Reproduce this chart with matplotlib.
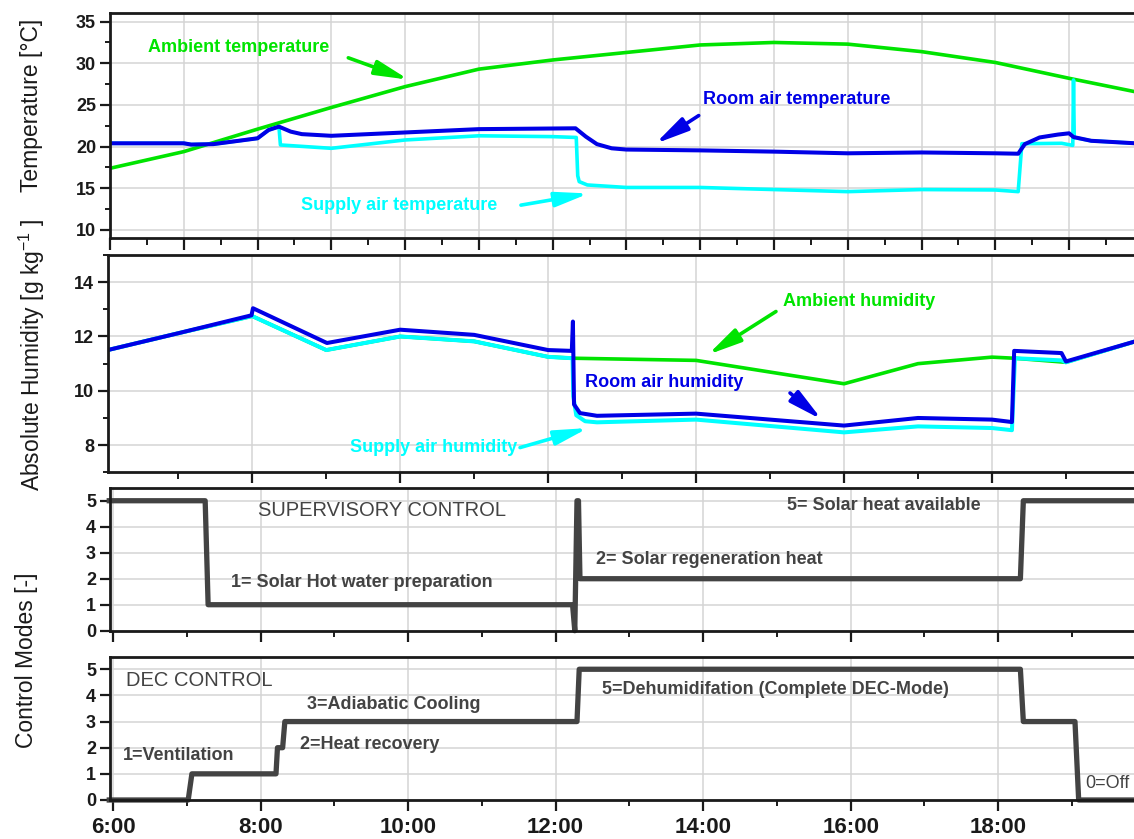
import matplotlib
matplotlib.use('Agg')
import matplotlib.pyplot as plt
from matplotlib.ticker import MultipleLocator, FuncFormatter

plt.rcParams['font.family'] = ['Liberation Sans', 'DejaVu Sans']
plt.rcParams['mathtext.default'] = 'regular'

# time axis is hours of the day
# temperatures [degC]
amb_t_h = [6, 7, 8, 9, 10, 11, 12, 13, 14, 15, 16, 17, 18, 19, 20]
amb_t = [17.4, 19.4, 22.1, 24.7, 27.2, 29.3, 30.4, 31.3, 32.2, 32.5, 32.3, 31.4, 30.1, 28.2, 26.4]

room_t_h = [6, 7.0, 7.1, 7.4, 8.0, 8.15, 8.29, 8.45, 8.6, 9.0, 10.0, 11.0, 12.31, 12.45, 12.6,
            12.8, 13.0, 14.0, 15.0, 16.0, 17.0, 18.0, 18.31, 18.4, 18.6, 18.85, 19.0, 19.06, 19.3, 20]
room_t = [20.4, 20.4, 20.25, 20.3, 21.0, 22.0, 22.4, 21.8, 21.5, 21.3, 21.7, 22.1, 22.2, 21.2, 20.3,
          19.8, 19.65, 19.55, 19.4, 19.2, 19.3, 19.2, 19.15, 20.3, 21.1, 21.45, 21.6, 21.15, 20.7, 20.35]

supply_t_h = [6, 7.0, 7.1, 7.4, 8.0, 8.15, 8.29, 8.31, 9.0, 10.0, 11.0, 12.0, 12.32, 12.34, 12.36,
              12.47, 13.0, 14.0, 15.0, 16.0, 17.0, 18.0, 18.31, 18.36, 18.9, 19.05, 19.06, 19.07,
              19.3, 20]
supply_t = [20.4, 20.4, 20.25, 20.3, 21.0, 22.0, 22.4, 20.2, 19.8, 20.8, 21.3, 21.2, 21.1, 16.5, 15.8,
            15.4, 15.1, 15.1, 14.85, 14.6, 14.85, 14.8, 14.6, 20.35, 20.4, 20.15, 28.0, 21.1,
            20.7, 20.35]

# absolute humidity [g/kg]
amb_x_h = [6, 7, 8, 9, 10, 11, 12, 12.33, 14, 16, 17, 18, 18.3, 19, 20]
amb_x = [11.47, 12.12, 12.75, 11.5, 12.0, 11.82, 11.25, 11.2, 11.12, 10.26, 11.0, 11.24, 11.2, 11.05, 11.87]

supply_x_h = [6, 7, 8, 9, 10, 11, 12, 12.33, 12.34, 12.38, 12.5, 12.66, 14, 16, 17, 18, 18.27,
              18.31, 18.94, 19.0, 20]
supply_x = [11.47, 12.12, 12.75, 11.5, 12.0, 11.82, 11.25, 11.2, 9.8, 9.1, 8.88, 8.84, 8.94, 8.47,
            8.69, 8.63, 8.55, 11.2, 11.12, 11.05, 11.87]

room_x_h = [6, 7, 7.99, 8.01, 9.01, 10, 11, 12, 12.32, 12.335, 12.35, 12.43, 12.66, 14, 16, 17, 18,
            18.27, 18.3, 18.94, 19.0, 20]
room_x = [11.47, 12.12, 12.78, 13.04, 11.76, 12.25, 12.06, 11.5, 11.47, 12.55, 9.5, 9.18, 9.08, 9.16,
          8.72, 9.0, 8.94, 8.85, 11.47, 11.39, 11.08, 11.87]

# control modes [-]
sup_mode_h = [5.95, 7.25, 7.29, 12.23, 12.26, 12.29, 12.31, 12.33, 18.30, 18.34, 20]
sup_mode = [5, 5, 1, 1, 0, 5, 5, 2, 2, 5, 5]

dec_mode_h = [5.95, 7.02, 7.07, 8.21, 8.23, 8.30, 8.33, 12.29, 12.32, 18.30, 18.34, 19.04, 19.09, 20]
dec_mode = [0, 0, 1, 1, 2, 2, 3, 3, 5, 5, 3, 3, 0, 0]

GREEN = '#00e400'
BLUE = '#0000e6'
CYAN = '#00ffff'
GREY = '#434343'
GRID = '#d4d4d4'
INK = '#1a1a1a'

fig = plt.figure(figsize=(11.34, 8.39), dpi=100)
W, H = 1134., 839.


def panel(top, bottom, left=110):
    return fig.add_axes([left / W, 1 - bottom / H, (W - left) / W, (bottom - top) / H])


def style(ax, xlim, ylim, xmaj, xmin, ymaj, ymin, xlen=8.5, xlen_min=5):
    ax.set_xlim(xlim)
    ax.set_ylim(ylim)
    ax.xaxis.set_major_locator(MultipleLocator(xmaj))
    ax.xaxis.set_minor_locator(MultipleLocator(xmin))
    ax.yaxis.set_major_locator(MultipleLocator(ymaj))
    if ymin:
        ax.yaxis.set_minor_locator(MultipleLocator(ymin))
    ax.spines['right'].set_visible(False)
    for s in ['left', 'top', 'bottom']:
        ax.spines[s].set_linewidth(2)
        ax.spines[s].set_color(INK)
    ax.tick_params(axis='x', which='major', direction='out', length=xlen, width=1.6,
                   labelbottom=False, top=False, color=INK)
    ax.tick_params(axis='x', which='minor', direction='out', length=xlen_min, width=1.4, top=False,
                   color=INK)
    ax.tick_params(axis='y', which='major', direction='out', length=7, width=1.6, color=INK,
                   labelsize=13, labelcolor=INK, pad=3, right=False)
    ax.tick_params(axis='y', which='minor', direction='out', length=3.5, width=1.4, right=False,
                   color=INK)
    for lab in ax.get_yticklabels():
        lab.set_fontweight('bold')
    ax.grid(which='major', color=GRID, lw=1.1)
    ax.set_axisbelow(True)


def label(ax, x, y, s, color, weight='bold', size=13):
    ax.text(x, y, s, color=color, fontsize=size, fontweight=weight, ha='left', va='center')


def arrow(ax, tail, head, color):
    ax.annotate('', xy=head, xytext=tail,
                arrowprops=dict(arrowstyle='-|>,head_length=1.0,head_width=0.22', color=color,
                                lw=2.6, mutation_scale=20, shrinkA=0, shrinkB=0))


# temperatures
ax1 = panel(13.3, 238.3)
style(ax1, (6.0, 19.88), (9, 36), 1, 0.5, 5, 2.5, xlen=8.5, xlen_min=5)
ax1.plot(amb_t_h, amb_t, color=GREEN, lw=2.6)
ax1.plot(supply_t_h, supply_t, color=CYAN, lw=2.6)
ax1.plot(room_t_h, room_t, color=BLUE, lw=2.9)
label(ax1, 6.52, 31.9, 'Ambient temperature', GREEN)
arrow(ax1, (9.23, 30.66), (10.05, 28.03), GREEN)
label(ax1, 14.04, 25.6, 'Room air temperature', BLUE)
arrow(ax1, (13.98, 23.73), (13.39, 20.35), BLUE)
label(ax1, 8.59, 12.98, 'Supply air temperature', CYAN)
arrow(ax1, (11.57, 12.98), (12.49, 14.38), CYAN)

# absolute humidity
ax2 = panel(255, 472.3, left=108)
style(ax2, (6.05, 19.92), (7, 15), 2, 1, 2, 1, xlen=8, xlen_min=5)
ax2.plot(amb_x_h, amb_x, color=GREEN, lw=2.6)
ax2.plot(supply_x_h, supply_x, color=CYAN, lw=2.9)
ax2.plot(room_x_h, room_x, color=BLUE, lw=2.9)
label(ax2, 15.18, 13.29, 'Ambient humidity', GREEN)
arrow(ax2, (15.08, 12.92), (14.16, 11.33), GREEN)
label(ax2, 12.5, 10.31, 'Room air humidity', BLUE)
arrow(ax2, (15.27, 9.92), (15.70, 8.94), BLUE)
label(ax2, 9.32, 7.9, 'Supply air humidity', CYAN)
arrow(ax2, (11.62, 7.91), (12.54, 8.63), CYAN)

# supervisory control
ax3 = panel(488, 630.7)
style(ax3, (5.96, 19.84), (0, 5.49), 2, 1, 1, None, xlen=8, xlen_min=4)
ax3.plot(sup_mode_h, sup_mode, color=GREY, lw=3.8, clip_on=False)
label(ax3, 7.97, 4.62, 'SUPERVISORY CONTROL', GREY, weight='normal', size=14.5)
label(ax3, 7.6, 1.85, '1= Solar Hot water preparation', GREY)
label(ax3, 12.55, 2.75, '2= Solar regeneration heat', GREY)
label(ax3, 15.13, 4.83, '5= Solar heat available', GREY)

# DEC control
ax4 = panel(656.7, 800)
style(ax4, (5.96, 19.84), (0, 5.48), 2, 1, 1, None, xlen=8, xlen_min=4)
ax4.plot(dec_mode_h, dec_mode, color=GREY, lw=3.8, clip_on=False)
ax4.tick_params(axis='x', which='major', labelbottom=True, labelsize=16, labelcolor=INK, pad=4)
ax4.xaxis.set_major_formatter(FuncFormatter(lambda v, p: '%d:00' % round(v)))
for lab in ax4.get_xticklabels():
    lab.set_fontweight('bold')
label(ax4, 6.18, 4.57, 'DEC CONTROL', GREY, weight='normal', size=14.5)
label(ax4, 6.14, 1.72, '1=Ventilation', GREY)
label(ax4, 8.54, 2.11, '2=Heat recovery', GREY)
label(ax4, 8.63, 3.67, '3=Adiabatic Cooling', GREY)
label(ax4, 12.63, 4.24, '5=Dehumidifation (Complete DEC-Mode)', GREY)
label(ax4, 19.18, 0.64, '0=Off', GREY, weight='normal')

fig.text(32 / W, 1 - 105 / H, 'Temperature [°C]', rotation=90, ha='center', va='center',
         fontsize=16.5, color=INK)
fig.text(32 / W, 1 - 355 / H, 'Absolute Humidity [g kg$^{-1}$ ]', rotation=90, ha='center',
         va='center', fontsize=16.5, color=INK)
fig.text(27 / W, 1 - 660 / H, 'Control Modes [-]', rotation=90, ha='center', va='center',
         fontsize=16.5, color=INK)

fig.savefig('out.png', dpi=100)
